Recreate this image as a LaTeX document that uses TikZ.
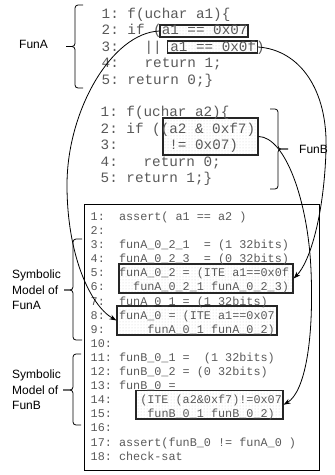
\documentclass[tikz,border=0pt]{standalone}
\usepackage{fontspec}
\setmainfont{Liberation Sans}
\newfontfamily\cmono{Liberation Mono}
\usetikzlibrary{arrows.meta,patterns,fit}
\begin{document}
\begin{tikzpicture}[x=1pt,y=-1pt,
  tcode/.style={anchor=base west,inner sep=0pt,text=black!65,font=\cmono\fontsize{14.3}{16}\selectfont},
  bcode/.style={anchor=base west,inner sep=0pt,text=black!65,font=\cmono\fontsize{11.8}{14}\selectfont},
  hbox/.style={draw=black!85,line width=1.2pt,pattern=dots,pattern color=black!18,inner sep=0pt},
  lab/.style={inner sep=0pt,align=left,anchor=west,font=\fontsize{12}{15.5}\selectfont},
  brk/.style={draw,line width=0.8pt,rounded corners=3pt},
  conn/.style={draw,line width=0.8pt,-{Stealth[length=7pt,width=5pt]}}]
\useasboundingbox (0,0) rectangle (335,475);

% highlight boxes
\node[hbox,fit={(160,25) (248,37)}] (b1) {};
\node[hbox,fit={(167.5,41) (257.5,53)}] (b2) {};
\node[hbox,fit={(163,118) (258,155)}] (bF) {};
\node[draw,line width=1pt,inner sep=0pt,fit={(84,204) (319,470)}] (model) {};
\node[hbox,fit={(119,264) (293,293)}] (bA) {};
\node[hbox,fit={(117,306) (277,335)}] (bB) {};
\node[hbox,fit={(136,390.5) (283,419)}] (bC) {};

% FunA code
\node[tcode] (a1) at (101.5,18.1) {1:~f(uchar~a1)\{};
\node[tcode] (a2) at (101.5,34.6) {2:~if~(a1~==~0x07};
\node[tcode] (a3) at (101.5,51.1) {3:~~~||~a1~==~0x0f)};
\node[tcode] (a4) at (101.5,67.6) {4:~~~return~1;};
\node[tcode] (a5) at (101.5,84.1) {5:~return~0;\}};

% FunB code
\node[tcode] (c1) at (100.5,116.6) {1:~f(uchar~a2)\{};
\node[tcode] (c2) at (100.5,133.1) {2:~if~((a2~\&~0xf7)};
\node[tcode] (c3) at (100.5,149.6) {3:~~~~~~!=~0x07)};
\node[tcode] (c4) at (100.5,166.1) {4:~~~return~0;};
\node[tcode] (c5) at (100.5,182.6) {5:~return~1;\}};

% model
\node[bcode] (m1) at (90.5,220.4) {1:~~assert(~a1~==~a2~)};
\node[bcode] (m2) at (90.5,234.5) {2:};
\node[bcode] (m3) at (90.5,248.6) {3:~~funA\_0\_2\_1~~=~(1~32bits)};
\node[bcode] (m4) at (90.5,262.7) {4:~~funA\_0\_2\_3~~=~(0~32bits)};
\node[bcode] (m5) at (90.5,276.8) {5:~~funA\_0\_2~=~(ITE~a1==0x0f};
\node[bcode] (m6) at (90.5,290.9) {6:~~~~funA\_0\_2\_1~funA\_0\_2\_3)};
\node[bcode] (m7) at (90.5,305.0) {7:~~funA\_0\_1~=~(1~32bits)};
\node[bcode] (m8) at (90.5,319.1) {8:~~funA\_0~=~(ITE~a1==0x07};
\node[bcode] (m9) at (90.5,333.2) {9:~~~~~~funA\_0\_1~funA\_0\_2)};
\node[bcode] (m10) at (90.5,347.3) {10:};
\node[bcode] (m11) at (90.5,361.4) {11:~funB\_0\_1~=~~(1~32bits)};
\node[bcode] (m12) at (90.5,375.5) {12:~funB\_0\_2~=~(0~32bits)};
\node[bcode] (m13) at (90.5,389.6) {13:~funB\_0~=};
\node[bcode] (m14) at (90.5,403.7) {14:~~~~(ITE~(a2\&0xf7)!=0x07};
\node[bcode] (m15) at (90.5,417.8) {15:~~~~~funB\_0\_1~funB\_0\_2)};
\node[bcode] (m16) at (90.5,431.9) {16:};
\node[bcode] (m17) at (90.5,446.0) {17:~assert(funB\_0~!=~funA\_0~)};
\node[bcode] (m18) at (90.5,460.1) {18:~check-sat};

% labels
\node[lab] (lA) at (19,44) {FunA};
\node[lab] (lB) at (299,149) {FunB};
\node[lab] (sA) at (12,290) {Symbolic\\Model of\\FunA};
\node[lab] (sB) at (12,390) {Symbolic\\Model of\\FunB};

% brackets
\draw[brk] (83,5) -- (75,5) -- (75,46.5) -- (66,46.5);
\draw[brk] (66,46.5) -- (75,46.5) -- (75,88) -- (83,88);
\draw[brk] (270,109) -- (278,109) -- (278,149) -- (288,149);
\draw[brk] (288,149) -- (278,149) -- (278,189) -- (270,189);
\draw[brk] (82,239) -- (73,239) -- (73,290) -- (64,290);
\draw[brk] (64,290) -- (73,290) -- (73,340) -- (82,340);
\draw[brk] (81,354) -- (73,354) -- (73,390) -- (63,390);
\draw[brk] (63,390) -- (73,390) -- (73,425) -- (81,425);

% connectors
\draw[conn] (b1.west) .. controls (112,33) and (67,110) .. (67,185)
  .. controls (67,255) and (90,305) .. (bB.west);
\draw[conn] (b2.east) .. controls (300,50) and (328,90) .. (326,150)
  .. controls (324,215) and (310,262) .. (bA.east);
\draw[conn] (bF.east) .. controls (285,137) and (308,200) .. (311,270)
  .. controls (314,340) and (305,392) .. (bC.east);
\end{tikzpicture}
\end{document}
